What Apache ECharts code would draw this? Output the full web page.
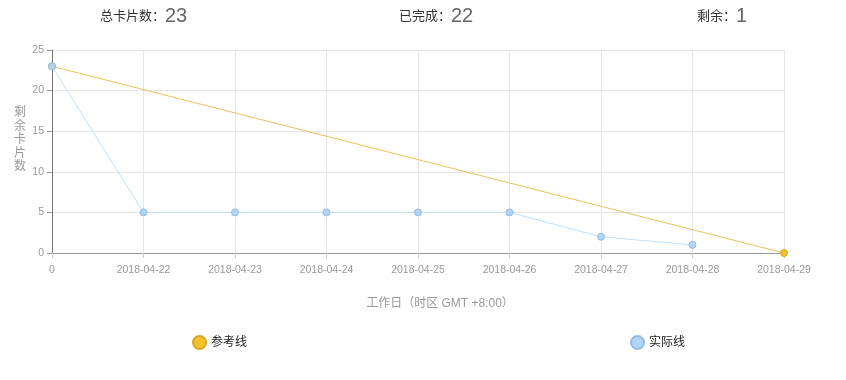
<!DOCTYPE html>
<html><head><meta charset="utf-8">
<script src="https://cdn.jsdelivr.net/npm/echarts@6/dist/echarts.min.js"></script>
<style>
html,body{margin:0;padding:0;background:#fff;}
#wrap{position:relative;width:846px;height:380px;}
#edge{position:absolute;left:2px;top:0;width:1px;height:380px;background:#e3e3e3;}
#main{position:absolute;left:0;top:0;width:846px;height:380px;}
</style></head>
<body><div id="wrap"><div id="edge"></div><div id="main"></div></div>
<script>
var categories = ['0','2018-04-22','2018-04-23','2018-04-24','2018-04-25','2018-04-26','2018-04-27','2018-04-28','2018-04-29'];
var referenceLine = [23,'-','-','-','-','-','-','-',0];
var actualLine = [23,5,5,5,5,5,2,1];
var yTicks = {min:0,max:25,interval:5};
var summary = [['总卡片数：','23'],['已完成：','22'],['剩余：','1']];
var yAxisName = ['剩','余','卡','片','数'];

var FONT = 'Liberation Sans, Arial, Noto Sans CJK SC, sans-serif';
var chart = echarts.init(document.getElementById('main'));
var sumX = [100, 399, 697];
var graphics = summary.map(function(s,i){
  return {type:'text', left:sumX[i], top:6, style:{
    text:'{a|'+s[0]+'}{b|'+s[1]+'}',
    rich:{a:{fontSize:13,fill:'#333',fontFamily:FONT},b:{fontSize:20,fill:'#666',fontFamily:FONT}}
  }};
});
graphics.push({type:'text', left:14, top:106, style:{
  text:yAxisName.join('\n'), fontSize:12, lineHeight:13.5, fill:'#999', fontFamily:FONT
}});
chart.setOption({
  animation:false,
  backgroundColor:'#fff',
  graphic:graphics,
  grid:{left:52,right:62,top:50,bottom:127},
  legend:[
    {data:['参考线'],left:187,top:330,icon:'circle',itemWidth:13,itemHeight:13,textStyle:{fontSize:12,color:'#222',fontFamily:FONT}},
    {data:['实际线'],left:625,top:330,icon:'circle',itemWidth:13,itemHeight:13,textStyle:{fontSize:12,color:'#222',fontFamily:FONT}}
  ],
  xAxis:{type:'category',data:categories,boundaryGap:false,
    name:'工作日（时区 GMT +8:00）',nameLocation:'middle',nameGap:45,
    nameTextStyle:{color:'#999',fontSize:12,fontFamily:FONT,padding:[0,0,0,44]},
    axisLine:{lineStyle:{color:'#999'}},
    axisTick:{show:true,length:5,lineStyle:{color:'#ccc'}},
    axisLabel:{color:'#999',fontSize:10.5,fontFamily:FONT,margin:12},
    splitLine:{show:true,lineStyle:{color:'#e6e6e6'}}},
  yAxis:{type:'value',min:yTicks.min,max:yTicks.max,interval:yTicks.interval,
    axisLine:{show:true,lineStyle:{color:'#777'}},
    axisTick:{show:true,length:5,lineStyle:{color:'#999'}},
    axisLabel:{color:'#999',fontSize:10.5,fontFamily:FONT,margin:8},
    splitLine:{show:true,lineStyle:{color:'#e6e6e6'}}},
  series:[
    {name:'参考线',type:'line',data:referenceLine,connectNulls:true,
     symbol:'circle',symbolSize:7,
     itemStyle:{color:'#f2c12e',borderColor:'#d9a820',borderWidth:1},
     lineStyle:{color:'#eac25a',width:1}},
    {name:'实际线',type:'line',data:actualLine,
     symbol:'circle',symbolSize:7,
     itemStyle:{color:'#b3d3f2',borderColor:'#92bde6',borderWidth:1},
     lineStyle:{color:'#bfe0f5',width:1}}
  ]
});
</script></body></html>
